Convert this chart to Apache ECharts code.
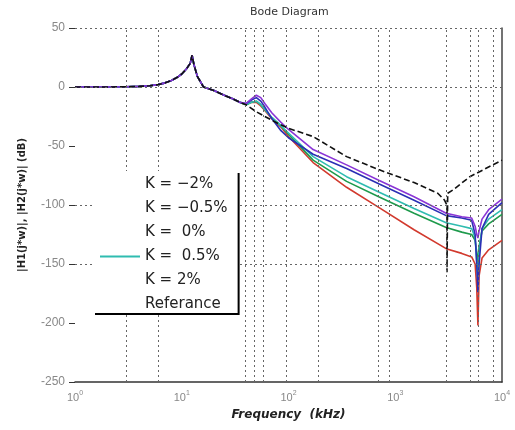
<!DOCTYPE html>
<html>
<head>
<meta charset="utf-8">
<script src="https://cdn.jsdelivr.net/npm/echarts@6/dist/echarts.min.js"></script>
<style>
  html, body { margin: 0; padding: 0; background: #fff; }
  #chart { width: 515px; height: 430px; }
</style>
</head>
<body>
<div id="chart"></div>
<script>
// 低频段（各曲线共用）
const freqLow = [1, 2, 3, 4, 5, 6, 7, 8, 9, 10, 11, 12, 12.5, 13, 14, 16, 20, 25, 30, 35];
const magLow = [0, 0, 0.2, 0.5, 1, 2, 3.5, 5.5, 8, 11, 15, 20, 27, 19, 9, 0, -3, -7, -10, -13];

// 高频段
const freqHigh = [40, 45, 50, 55, 60, 70, 85, 100, 170, 350, 700, 1500, 3000, 4200, 5200, 5600, 5800, 5950, 6100, 6500, 7500, 10000];
const magKm2 = [-14, -11, -9, -12, -17, -27, -37, -43, -57, -69, -82, -96, -109, -111, -113, -125, -150, -174, -150, -120, -108, -98];
const magKm05 = [-15, -13, -12, -15, -19, -26, -33, -40, -62, -80, -93, -107, -119, -123, -125, -130, -140, -150, -135, -122, -116, -108];
const magK0 = [-15, -13, -13, -16, -20, -27, -34, -42, -64, -85, -102, -121, -137, -141, -144, -150, -170, -202, -160, -145, -138, -130];
const magK05 = [-15, -13, -12, -15, -19, -26, -33, -39, -59, -76, -89, -103, -115, -118, -120, -128, -148, -165, -140, -120, -112, -104];
const magK2 = [-14, -10, -7, -9, -14, -22, -30, -36, -53, -66, -79, -93, -107, -110, -111, -118, -125, -128, -122, -112, -104, -95];

// 参考曲线
const refFreq = [40, 50, 60, 80, 100, 170, 350, 700, 1500, 2500, 2900, 3050, 3051, 3100, 3500, 5000, 10000];
const refMag = [-15, -21, -25, -31, -35, -42, -59, -70, -81, -90, -96, -100, -157, -90, -87, -76, -62];

// 网格线
const vGrid = [3, 6, 39, 48, 58, 95, 190, 690, 880, 3000, 5000, 6000, 8200];
const hGrid = [50, 0, -100, -150];

const seriesNames = ['K = \u22122%', 'K = \u22120.5%', 'K =  0%', 'K =  0.5%', 'K = 2%', 'Referance'];
const seriesColors = ['#2b2fb5', '#1e9a4c', '#d23a2e', '#2fbcb0', '#8a35d6', '#111111'];

function toPairs(fx, mx) {
    return fx.map((f, i) => [f, mx[i]]);
}

function curve(lowF, lowM, highF, highM) {
    return toPairs(lowF.concat(highF), lowM.concat(highM));
}

document.addEventListener('DOMContentLoaded', function() {
    const chart = echarts.init(document.getElementById('chart'));

    const magHighList = [magKm2, magKm05, magK0, magK05, magK2];
    const drawOrder = [2, 1, 3, 0, 4];

    const series = [{
        name: 'grid',
        type: 'line',
        data: [],
        silent: true,
        z: 1,
        markLine: {
            silent: true,
            symbol: 'none',
            label: { show: false },
            lineStyle: { color: '#666', type: [2, 3], width: 1 },
            data: vGrid.map(f => ({ xAxis: f })).concat(hGrid.map(v => ({ yAxis: v })))
        }
    }];

    drawOrder.forEach(i => {
        series.push({
            name: seriesNames[i],
            type: 'line',
            symbol: 'none',
            data: curve(freqLow, magLow, freqHigh, magHighList[i]),
            lineStyle: { color: seriesColors[i], width: 1.6 },
            itemStyle: { color: seriesColors[i] },
            z: 3
        });
    });

    series.push({
        name: seriesNames[5],
        type: 'line',
        symbol: 'none',
        data: curve(freqLow, magLow, refFreq, refMag),
        lineStyle: { color: seriesColors[5], width: 1.6, type: [6, 3] },
        itemStyle: { color: seriesColors[5] },
        z: 4
    });

    // 图例只显示 K = 0.5% 的线
    const legendData = seriesNames.map((n, i) => {
        if (i === 3) return { name: n, itemStyle: { opacity: 0 } };
        return { name: n, lineStyle: { opacity: 0 }, itemStyle: { opacity: 0 } };
    });

    const option = {
        animation: false,
        title: {
            text: 'Bode Diagram',
            left: 245,
            top: 2,
            textStyle: { fontSize: 11, fontWeight: 'normal', color: '#333', fontFamily: 'DejaVu Sans' }
        },
        legend: {
            orient: 'vertical',
            left: 93,
            top: 171,
            data: legendData,
            itemWidth: 40,
            itemHeight: 14,
            itemGap: 9,
            padding: [6, 10, 1, 6],
            backgroundColor: '#fff',
            shadowColor: '#000',
            shadowBlur: 0,
            shadowOffsetX: 2,
            shadowOffsetY: 2,
            textStyle: { fontSize: 15, color: '#222', fontFamily: 'DejaVu Sans' },
            z: 10
        },
        grid: {
            left: 75,
            right: 13,
            top: 28,
            bottom: 48
        },
        xAxis: {
            type: 'log',
            logBase: 10,
            min: 1,
            max: 10000,
            name: 'Frequency  (kHz)',
            nameLocation: 'middle',
            nameGap: 27,
            nameTextStyle: { fontSize: 12, fontStyle: 'italic', fontWeight: 'bold', color: '#222', fontFamily: 'DejaVu Sans' },
            axisLine: { show: true, onZero: false, lineStyle: { color: '#333', width: 1.5 } },
            axisTick: { show: false },
            splitLine: { show: false },
            axisLabel: {
                color: '#888',
                fontSize: 11,
                margin: 8,
                formatter: function(v) {
                    return '10{s|' + Math.round(Math.log10(v)) + '}';
                },
                rich: {
                    s: { fontSize: 7, color: '#888', verticalAlign: 'top', padding: [0, 0, 8, 0] }
                }
            }
        },
        yAxis: [{
            type: 'value',
            min: -250,
            max: 50,
            interval: 50,
            name: '|H1(j*w)|, |H2(j*w)| (dB)',
            nameLocation: 'middle',
            nameGap: 48,
            nameTextStyle: { fontSize: 10, fontWeight: 'bold', color: '#222', fontFamily: 'DejaVu Sans' },
            axisLine: { show: false },
            axisTick: { show: true, inside: false, length: 6, lineStyle: { color: '#333' } },
            splitLine: { show: false },
            axisLabel: { color: '#888', fontSize: 12, margin: 10 }
        }, {
            type: 'value',
            position: 'right',
            min: -250,
            max: 50,
            interval: 50,
            axisLine: { show: true, lineStyle: { color: '#444', width: 1.5 } },
            axisTick: { show: false },
            axisLabel: { show: false },
            splitLine: { show: false }
        }],
        series: series
    };
    chart.setOption(option);
});
</script>
</body>
</html>
